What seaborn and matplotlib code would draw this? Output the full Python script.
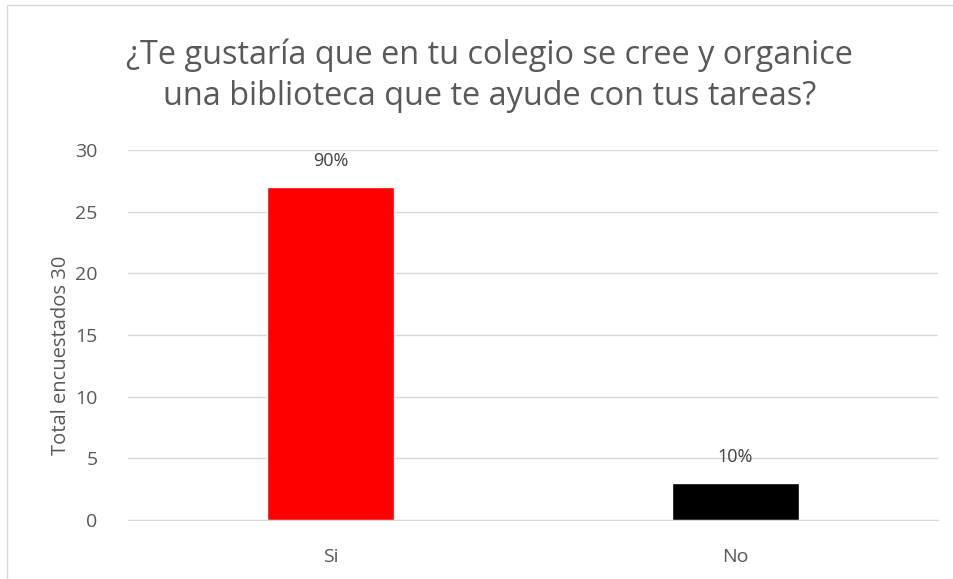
import matplotlib.pyplot as plt
import seaborn as sns
import pandas as pd
from matplotlib.patches import Rectangle

# Data
respuestas = ['Si', 'No']
encuestados = [27, 3]
porcentajes = ['90%', '10%']
colores = ['#ff0000', '#000000']

df = pd.DataFrame({'Respuesta': respuestas, 'Total': encuestados})

sns.set_style('white')
plt.rcParams['font.family'] = ['Open Sans', 'DejaVu Sans']

fig = plt.figure(figsize=(9.54, 5.79), dpi=100)
ax = fig.add_axes([128 / 954, 1 - 520 / 579, 810 / 954, 370 / 579])

sns.barplot(data=df, x='Respuesta', y='Total', hue='Respuesta', palette=colores,
            width=0.316, saturation=1, legend=False, ax=ax)

for i, (v, p) in enumerate(zip(encuestados, porcentajes)):
    ax.annotate(p, (i, v), xytext=(0, 19), textcoords='offset points',
                ha='center', va='center', fontsize=13, color='#404040')

ax.set_ylim(0, 30)
ax.set_yticks(range(0, 31, 5))
ax.yaxis.grid(True, color='#d9d9d9', linewidth=1)
ax.set_axisbelow(True)
for s in ['top', 'right', 'left']:
    ax.spines[s].set_visible(False)
ax.spines['bottom'].set_color('#d9d9d9')
ax.tick_params(axis='both', length=0, labelsize=14, colors='#595959')
ax.tick_params(axis='x', pad=20)
ax.tick_params(axis='y', pad=22)
ax.set_xlabel('')
ax.set_ylabel('Total encuestados 30', fontsize=14.5, color='#595959')
ax.yaxis.set_label_coords(-0.07, 0.445)

fig.text(0.513, 1 - 76 / 579, '¿Te gustaría que en tu colegio se cree y organice\nuna biblioteca que te ayude con tus tareas?',
         ha='center', va='center', fontsize=23.4, color='#595959', linespacing=1.3)

# chart border
fig.patches.append(Rectangle((7 / 954, -0.1), 1.1, 1 - 5 / 579 + 0.1, transform=fig.transFigure,
                             fill=False, edgecolor='#d9d9d9', linewidth=1))

fig.savefig('out.png', dpi=100)
